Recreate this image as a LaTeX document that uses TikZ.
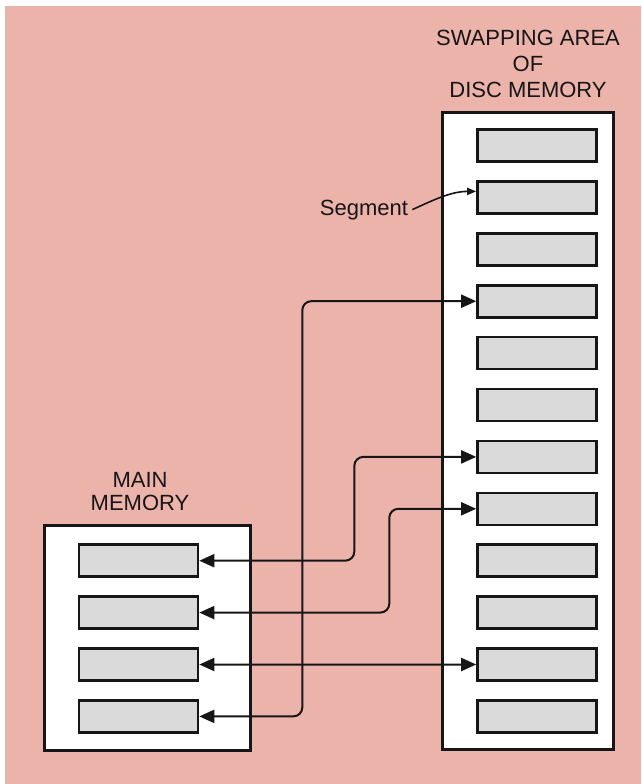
\documentclass[tikz,border=0pt]{standalone}
\usepackage{fontspec}
\setsansfont{Liberation Sans}
\usetikzlibrary{arrows.meta, positioning}
\definecolor{cpink}{HTML}{EBB3AA}
\definecolor{cslot}{HTML}{DADADA}
\definecolor{cink}{HTML}{161616}
\tikzset{
  every picture/.style={font=\sffamily, line width=2pt},
  store/.style={draw=cink, fill=white, line width=2.8pt, inner sep=0pt},
  slot/.style={draw=cink, fill=cslot, line width=2.6pt, minimum width=119pt, minimum height=32pt, inner sep=0pt},
  link/.style={{Triangle[length=15pt,width=13pt]}-{Triangle[length=15pt,width=13pt]}, draw=cink, rounded corners=9pt},
  pointer/.style={-{Triangle[length=9pt,width=7pt]}, draw=cink, line width=1.6pt},
  heading/.style={font=\sffamily\fontsize{22}{26}\selectfont, align=center, text=cink},
}

\begin{document}
\begin{tikzpicture}[x=1pt, y=-1pt]
  \useasboundingbox (0,0) rectangle (641,784);
  \fill[cpink] (5,6) rectangle (641,784);
  % swapping area on disc: twelve segments
  \node[store, minimum width=171pt, minimum height=637pt] (disc) at (528,431) {};
  \foreach \k in {1,...,12}
    \node[slot] (d\k) at (537,93.6+51.9*\k) {};
  \node[heading] (disctitle) at (528,63.5) {SWAPPING AREA\\OF\\DISC MEMORY};
  % main memory: four segments, level with the last four on disc
  \node[store, minimum width=206pt, minimum height=225pt] (main) at (147.5,638) {};
  \foreach \k in {1,...,4}
    \node[slot] (m\k) at (138.5,508.8+51.9*\k) {};
  \node[heading] (maintitle) at (140,491.5) {MAIN\\[-3pt]MEMORY};
  % swaps
  \draw[link] (m1.east) -- ++(155,0) |- (d7.west);
  \draw[link] (m2.east) -- ++(190,0) |- (d8.west);
  \draw[link] (m3.east) -- (d11.west);
  \draw[link] (m4.east) -- ++(103,0) |- (d4.west);
  \node[heading, anchor=base] (seglabel) at (364,215) {Segment};
  \draw[pointer] (seglabel.east) .. controls +(22,-10) and +(-25,0) .. ([yshift=6pt]d2.west);
\end{tikzpicture}
\end{document}
